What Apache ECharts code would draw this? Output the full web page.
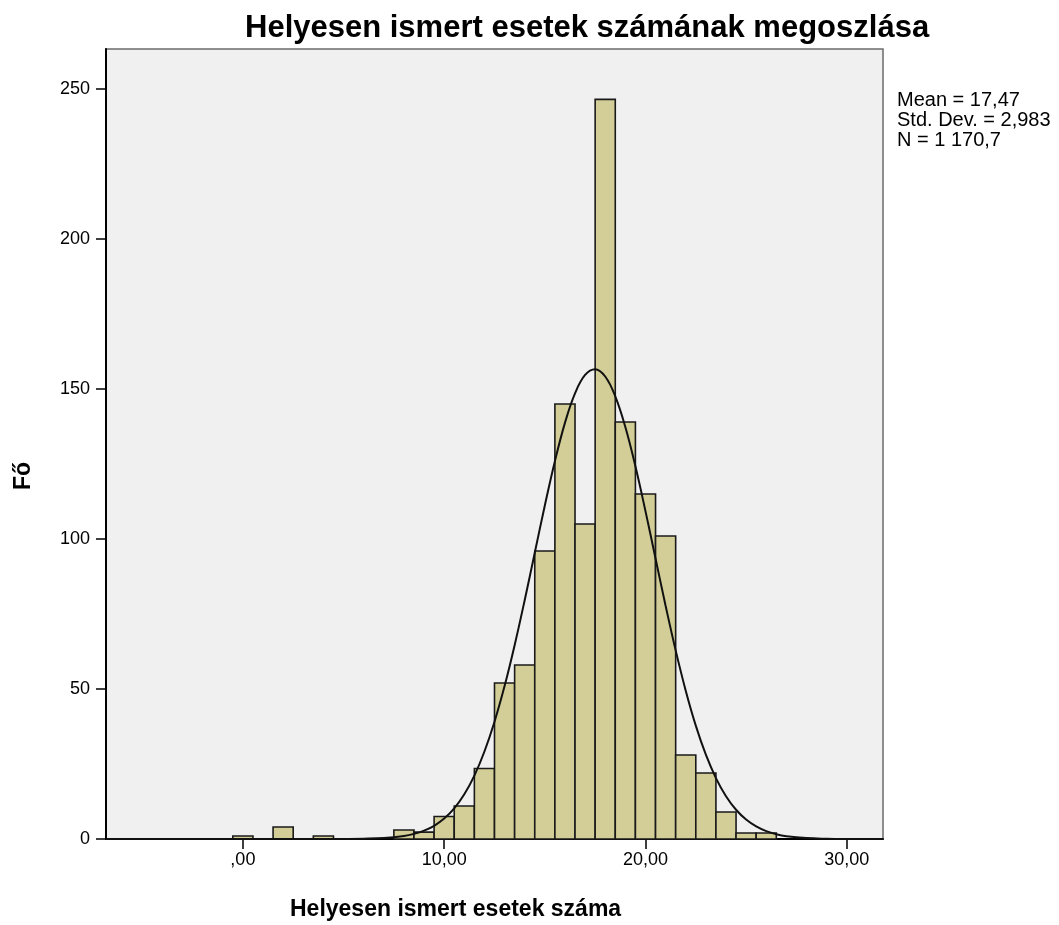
<!DOCTYPE html>
<html>
<head>
    <meta charset="UTF-8">
    <title>Helyesen ismert esetek</title>
    <script src="https://cdn.jsdelivr.net/npm/echarts@6/dist/echarts.min.js"></script>
    <style>
        html, body { margin: 0; padding: 0; background: #fff; }
        #main { width: 1059px; height: 925px; }
    </style>
</head>
<body>
<div id="main"></div>
<script type="text/javascript">
    // oszlopok: bin kozeppontok es gyakorisag (bin szelesseg 1)
    var binCenters = [0, 2, 4, 8, 9, 10, 11, 12, 13, 14, 15, 16, 17, 18, 19, 20, 21, 22, 23, 24, 25, 26];
    var binCounts  = [1, 4, 1, 3, 2.3, 7.5, 11, 23.5, 52, 58, 96, 145, 105, 246.5, 139, 115, 101, 28, 22, 9, 2, 2];

    // normalgorbe leolvasott pontjai
    var curveX = [-6.8, 4, 5, 6, 7, 8, 8.5, 9, 9.5, 10, 10.5, 11, 11.5, 12, 12.5, 13, 13.5, 14, 14.5, 15, 15.5, 16, 16.5, 17, 17.5,
                  18, 18.5, 19, 19.5, 20, 20.5, 21, 21.5, 22, 22.5, 23, 23.5, 24, 24.5, 25, 25.5, 26, 26.5, 27, 28, 29, 30, 31.8];
    var curveY = [0, 0.01, 0.03, 0.1, 0.33, 1.01, 1.7, 2.78, 4.41, 6.81, 10.21, 14.9, 21.13, 29.16, 39.09, 50.96, 64.6, 79.6, 95.4, 111.15, 125.92, 138.7, 148.53, 154.67, 156.59,
                  154.14, 147.53, 137.3, 124.23, 109.29, 93.49, 77.75, 62.87, 49.44, 37.79, 28.09, 20.3, 14.26, 9.75, 6.47, 4.18, 2.62, 1.6, 0.95, 0.31, 0.09, 0.02, 0];

    var xTicks = [0, 10, 20, 30];
    var yTicks = [0, 50, 100, 150, 200, 250];
    var statLines = ['Mean = 17,47', 'Std. Dev. = 2,983', 'N = 1 170,7'];

    var barData = [];
    for (var i = 0; i < binCenters.length; i++) {
        barData.push([binCenters[i], binCounts[i]]);
    }
    var lineData = [];
    for (var j = 0; j < curveX.length; j++) {
        lineData.push([curveX[j], curveY[j]]);
    }

    function xFmt(v) {
        // ,00 / 10,00 formatum
        return v === 0 ? ',00' : v + ',00';
    }

    var myChart = echarts.init(document.getElementById('main'));
    var option = {
        animation: false,
        backgroundColor: '#ffffff',
        textStyle: { fontFamily: 'Liberation Sans, Arial, sans-serif' },
        grid: {
            left: 106, right: 176, top: 49, bottom: 86,
            show: true,
            backgroundColor: '#f0f0f0',
            borderColor: '#6b6b6b',
            borderWidth: 1.5
        },
        xAxis: {
            type: 'value',
            min: -6.8,
            max: 31.8,
            splitLine: { show: false },
            axisLine: { show: true, onZero: false, lineStyle: { color: '#000', width: 2 } },
            axisTick: { show: true, length: 10, customValues: xTicks, lineStyle: { color: '#000', width: 1.5 } },
            axisLabel: {
                customValues: xTicks,
                formatter: xFmt,
                margin: 12,
                color: '#000',
                fontSize: 18
            }
        },
        yAxis: {
            type: 'value',
            min: 0,
            max: 263.3,
            splitLine: { show: false },
            axisLine: { show: true, onZero: false, lineStyle: { color: '#000', width: 2 } },
            axisTick: { show: true, length: 10, customValues: yTicks, lineStyle: { color: '#000', width: 1.5 } },
            axisLabel: {
                customValues: yTicks,
                margin: 16,
                color: '#000',
                fontSize: 18
            }
        },
        series: [
            {
                type: 'custom',
                data: barData,
                renderItem: function (params, api) {
                    var x = api.value(0);
                    var y = api.value(1);
                    var p0 = api.coord([x - 0.5, y]);
                    var p1 = api.coord([x + 0.5, 0]);
                    return {
                        type: 'rect',
                        shape: { x: p0[0], y: p0[1], width: p1[0] - p0[0], height: p1[1] - p0[1] },
                        style: { fill: '#d3ce97', stroke: '#1a1a1a', lineWidth: 1.6 }
                    };
                },
                z: 2
            },
            {
                type: 'line',
                data: lineData,
                smooth: 0.4,
                showSymbol: false,
                lineStyle: { color: '#111', width: 2 },
                z: 3
            }
        ],
        graphic: [
            {
                type: 'text', left: 245, top: 13,
                style: { text: 'Helyesen ismert esetek számának megoszlása', font: 'bold 31px "Liberation Sans", Arial, sans-serif', fill: '#000' }
            },
            {
                type: 'text', left: 290, top: 898,
                style: { text: 'Helyesen ismert esetek száma', font: 'bold 23px "Liberation Sans", Arial, sans-serif', fill: '#000' }
            },
            {
                type: 'text', left: 12, top: 462, rotation: Math.PI / 2,
                style: { text: 'Fő', font: 'bold 23px "Liberation Sans", Arial, sans-serif', fill: '#000' }
            },
            {
                type: 'text', left: 897, top: 90,
                style: { text: statLines.join('\n'), font: '20px "Liberation Sans", Arial, sans-serif', lineHeight: 20, fill: '#000' }
            }
        ]
    };
    myChart.setOption(option);
</script>
</body>
</html>
